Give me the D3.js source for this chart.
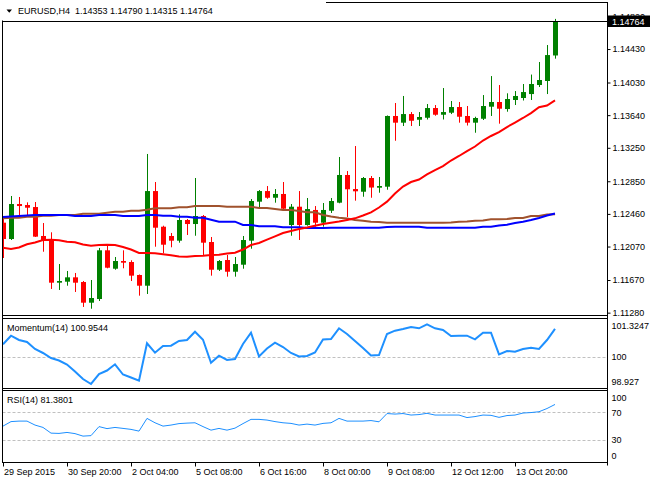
<!DOCTYPE html>
<html>
<head>
<meta charset="utf-8">
<script src="https://cdn.jsdelivr.net/npm/d3@7"></script>
<style>
body { margin: 0; background: #fff; }
text { font-family: "Liberation Sans", Arial, sans-serif; font-size: 9px; }
</style>
</head>
<body>
<div id="chart"></div>
<script>
// EURUSD H4 bars
var opens = [1.12355,1.12160,1.12578,1.12566,1.12542,1.12196,1.12148,1.11638,1.11650,1.11702,
1.11646,1.11399,1.11443,1.12025,1.11805,1.11897,1.11885,1.11730,1.11602,1.12733,
1.12307,1.12196,1.12140,1.12387,1.12339,1.12435,1.12124,1.11793,1.11909,1.11769,
1.11853,1.12140,1.12606,1.12733,1.12653,1.12698,1.12327,1.12546,1.12327,1.12507,
1.12355,1.12498,1.12594,1.12925,1.12757,1.12725,1.12889,1.12773,1.12785,1.13630,
1.13550,1.13653,1.13585,1.13609,1.13725,1.13645,1.13669,1.13737,1.13630,1.13550,
1.13597,1.13741,1.13797,1.13713,1.13821,1.13845,1.13892,1.14000,1.14048,1.14353];
var highs = [1.12435,1.12674,1.12662,1.12598,1.12602,1.12351,1.12240,1.11861,1.11778,1.11754,
1.11658,1.11670,1.12053,1.12088,1.11945,1.12025,1.11906,1.11736,1.13176,1.12841,
1.12319,1.12232,1.12455,1.12399,1.12889,1.12447,1.12184,1.11909,1.11969,1.11945,
1.12196,1.12638,1.12745,1.12793,1.12757,1.12841,1.12578,1.12733,1.12650,1.12554,
1.12590,1.12650,1.13140,1.12972,1.13271,1.12901,1.12913,1.12901,1.13636,1.13785,
1.13869,1.13677,1.13677,1.13773,1.13761,1.13964,1.13809,1.13797,1.13749,1.13621,
1.13880,1.14107,1.14000,1.13901,1.13928,1.14012,1.14125,1.14275,1.14478,1.14790];
var lows = [1.11933,1.12148,1.12438,1.12426,1.12184,1.12008,1.11563,1.11551,1.11602,1.11527,
1.11348,1.11327,1.11419,1.11810,1.11793,1.11810,1.11658,1.11483,1.11503,1.12068,
1.11989,1.12061,1.12116,1.12208,1.12199,1.11969,1.11722,1.11778,1.11710,1.11710,
1.11805,1.12044,1.12542,1.12641,1.12594,1.12510,1.12199,1.12148,1.12319,1.12307,
1.12307,1.12471,1.12587,1.12423,1.12618,1.12665,1.12653,1.12713,1.12749,1.13334,
1.13510,1.13510,1.13510,1.13588,1.13633,1.13588,1.13653,1.13550,1.13516,1.13430,
1.13582,1.13630,1.13538,1.13681,1.13761,1.13815,1.13821,1.13976,1.13892,1.14315];
var closes = [1.12160,1.12578,1.12554,1.12534,1.12188,1.12148,1.11638,1.11658,1.11702,1.11638,
1.11399,1.11455,1.12025,1.11817,1.11897,1.11877,1.11722,1.11602,1.12733,1.12295,
1.12092,1.12140,1.12387,1.12339,1.12435,1.12116,1.11793,1.11897,1.11769,1.11861,
1.12148,1.12614,1.12733,1.12653,1.12698,1.12522,1.12546,1.12327,1.12518,1.12355,
1.12507,1.12614,1.12925,1.12754,1.12730,1.12889,1.12775,1.12793,1.13630,1.13550,
1.13653,1.13573,1.13618,1.13725,1.13645,1.13677,1.13737,1.13621,1.13550,1.13606,
1.13749,1.13797,1.13717,1.13833,1.13869,1.13916,1.14012,1.14060,1.14358,1.14764];

// moving averages (red / blue / brown)
var maFast = [1.12056,1.12041,1.12058,1.12097,1.12118,1.12148,1.12152,1.12144,1.12128,1.12121,
1.12094,1.12080,1.12088,1.12092,1.12088,1.12064,1.12034,1.11993,1.11993,1.11989,
1.11977,1.11965,1.11951,1.11949,1.11957,1.11961,1.11969,1.11972,1.11987,1.11996,
1.12034,1.12088,1.12112,1.12152,1.12192,1.12232,1.12256,1.12280,1.12297,1.12319,
1.12339,1.12355,1.12369,1.12387,1.12407,1.12441,1.12479,1.12536,1.12606,1.12704,
1.12787,1.12841,1.12871,1.12931,1.12984,1.13032,1.13098,1.13152,1.13211,1.13265,
1.13337,1.13391,1.13438,1.13498,1.13552,1.13606,1.13665,1.13734,1.13755,1.13817];
var maMid = [1.12423,1.12429,1.12435,1.12441,1.12447,1.12447,1.12447,1.12447,1.12447,1.12435,
1.12435,1.12435,1.12447,1.12447,1.12447,1.12435,1.12435,1.12435,1.12447,1.12447,
1.12438,1.12438,1.12426,1.12426,1.12414,1.12414,1.12391,1.12367,1.12367,1.12367,
1.12327,1.12327,1.12312,1.12312,1.12312,1.12300,1.12300,1.12300,1.12291,1.12291,
1.12291,1.12295,1.12295,1.12295,1.12295,1.12295,1.12295,1.12295,1.12303,1.12307,
1.12307,1.12307,1.12307,1.12295,1.12295,1.12295,1.12295,1.12295,1.12295,1.12295,
1.12307,1.12307,1.12321,1.12331,1.12351,1.12367,1.12387,1.12411,1.12441,1.12465];
var maSlow = [1.12407,1.12414,1.12414,1.12426,1.12426,1.12438,1.12438,1.12447,1.12447,1.12447,
1.12462,1.12462,1.12462,1.12474,1.12486,1.12486,1.12498,1.12498,1.12510,1.12527,
1.12527,1.12527,1.12539,1.12539,1.12554,1.12554,1.12554,1.12554,1.12546,1.12546,
1.12546,1.12546,1.12530,1.12530,1.12518,1.12506,1.12506,1.12494,1.12479,1.12479,
1.12447,1.12429,1.12414,1.12405,1.12387,1.12379,1.12367,1.12363,1.12355,1.12355,
1.12355,1.12355,1.12355,1.12355,1.12355,1.12355,1.12357,1.12367,1.12369,1.12379,
1.12381,1.12395,1.12395,1.12399,1.12411,1.12411,1.12435,1.12435,1.12453,1.12455];

var momentum = [100.424,100.718,100.571,100.503,100.263,100.126,99.954,99.869,99.732,99.492,
99.235,99.064,99.406,99.526,99.739,99.389,99.286,99.177,100.458,100.136,
100.365,100.376,100.537,100.571,100.855,100.581,99.793,100.033,99.886,99.920,
100.434,100.821,100.006,100.280,100.479,100.331,100.126,100.006,100.023,100.143,
100.588,100.605,100.972,100.777,100.537,100.297,100.040,100.057,100.777,100.890,
100.948,101.016,100.972,101.109,100.972,100.914,100.708,100.718,100.718,100.595,
100.821,100.821,100.081,100.194,100.170,100.263,100.307,100.263,100.571,100.9544];
var rsi = [50.2,56.7,57.4,57.4,51.7,48.3,40.1,39.7,41.1,39.4,
35.8,36.5,49.5,46.6,48.3,46.9,45.5,43.0,61.3,55.0,
50.2,51.7,53.8,54.5,55.0,49.5,44.4,46.9,44.4,47.3,
53.8,59.9,59.9,58.9,56.7,55.0,54.1,51.7,53.1,51.7,
54.1,55.0,61.3,57.4,57.4,57.4,58.2,56.4,68.3,67.5,
68.3,66.1,66.8,68.6,66.1,66.1,66.1,66.1,62.5,63.9,
66.1,65.7,62.8,65.4,66.1,69.0,69.7,70.9,75.5,81.3801];

var priceTicks = [1.14820,1.14430,1.14030,1.13640,1.13250,1.12850,1.12460,1.12070,1.11670,1.11280];
var momTicks = [101.3247,100,98.927];
var rsiTicks = [100,70,30,0];
var rsiLevels = [70,30];
var timeIdx = [0,8,16,24,32,40,48,56,64];
var timeLabels = ["29 Sep 2015","30 Sep 20:00","2 Oct 04:00","5 Oct 08:00","6 Oct 16:00",
                  "8 Oct 00:00","9 Oct 08:00","12 Oct 12:00","13 Oct 20:00"];

var w = 650, h = 480;
var left = 2.5, right = 607.5;
var mainTop = 2.5, mainBot = 315.5;
var momTop = 318.5, momBot = 388.5;
var rsiTop = 390.5, rsiBot = 462.5;

var svg = d3.select("#chart").append("svg")
    .attr("width", w)
    .attr("height", h);

var n = closes.length;
var xScale = d3.scaleLinear().domain([0, n - 1]).range([3, 555]);
var yPrice = d3.scaleLinear().domain([1.11240, 1.14992]).range([316, 2]);
var yMom = d3.scaleLinear().domain([98.927, 101.3247]).range([388, 318]);
var yRsi = d3.scaleLinear().domain([0, 100]).range([461, 391.5]);

function clip(id, y0, y1) {
    svg.append("clipPath").attr("id", id)
        .append("rect").attr("x", left + 0.5).attr("y", y0 + 0.5)
        .attr("width", right - left - 1).attr("height", y1 - y0 - 1);
}
clip("cMain", mainTop, mainBot);
clip("cMom", momTop, momBot);
clip("cRsi", rsiTop, rsiBot);

// ---- main panel ----
var gMain = svg.append("g").attr("clip-path", "url(#cMain)");
var idx = d3.range(n);

gMain.selectAll(".wick").data(idx).enter().append("line")
    .attr("x1", function(i) { return xScale(i) + 0.5; })
    .attr("x2", function(i) { return xScale(i) + 0.5; })
    .attr("y1", function(i) { return yPrice(highs[i]); })
    .attr("y2", function(i) { return yPrice(lows[i]); })
    .attr("stroke", function(i) { return closes[i] >= opens[i] ? "#008000" : "#ff0000"; })
    .attr("stroke-width", 1);

gMain.selectAll(".body").data(idx).enter().append("rect")
    .attr("x", function(i) { return xScale(i) - 2; })
    .attr("width", 5)
    .attr("y", function(i) { return yPrice(Math.max(opens[i], closes[i])); })
    .attr("height", function(i) {
        return Math.max(1, Math.abs(yPrice(opens[i]) - yPrice(closes[i])));
    })
    .attr("fill", function(i) { return closes[i] >= opens[i] ? "#008000" : "#ff0000"; });

function maLine(arr, color) {
    var line = d3.line()
        .x(function(d, i) { return xScale(i); })
        .y(function(d) { return yPrice(d); });
    gMain.append("path").datum(arr)
        .attr("d", line)
        .attr("fill", "none")
        .attr("stroke", color)
        .attr("stroke-width", 2);
}
maLine(maSlow, "#a0522d");
maLine(maMid, "#0000ff");
maLine(maFast, "#ff0000");

// current price line
var lastY = Math.round(yPrice(closes[n - 1])) + 0.5;
svg.append("line")
    .attr("x1", left).attr("x2", right)
    .attr("y1", lastY).attr("y2", lastY)
    .attr("stroke", "#000");

// ---- momentum ----
var gMom = svg.append("g").attr("clip-path", "url(#cMom)");
var y100 = Math.round(yMom(100)) + 0.5;
gMom.append("line")
    .attr("x1", left).attr("x2", right).attr("y1", y100).attr("y2", y100)
    .attr("stroke", "#c0c0c0").attr("stroke-dasharray", "3,2");
gMom.append("path").datum(momentum)
    .attr("d", d3.line().x(function(d, i) { return xScale(i); }).y(function(d) { return yMom(d); }))
    .attr("fill", "none")
    .attr("stroke", "#1e90ff")
    .attr("stroke-width", 2);

// ---- rsi ----
var gRsi = svg.append("g").attr("clip-path", "url(#cRsi)");
gRsi.selectAll(".lvl").data(rsiLevels).enter().append("line")
    .attr("x1", left).attr("x2", right)
    .attr("y1", function(d) { return Math.round(yRsi(d)) + 0.5; })
    .attr("y2", function(d) { return Math.round(yRsi(d)) + 0.5; })
    .attr("stroke", "#c0c0c0").attr("stroke-dasharray", "3,2");
gRsi.append("path").datum(rsi)
    .attr("d", d3.line().x(function(d, i) { return xScale(i); }).y(function(d) { return yRsi(d); }))
    .attr("fill", "none")
    .attr("stroke", "#1e90ff")
    .attr("stroke-width", 1);

// ---- frames ----
[[mainTop, mainBot], [momTop, momBot], [rsiTop, rsiBot]].forEach(function(p) {
    svg.append("rect")
        .attr("x", left).attr("y", p[0])
        .attr("width", right - left).attr("height", p[1] - p[0])
        .attr("fill", "none").attr("stroke", "#000");
});
svg.append("line").attr("x1", right).attr("x2", right)
    .attr("y1", mainTop).attr("y2", rsiBot + 3).attr("stroke", "#000");
svg.append("line").attr("x1", left).attr("x2", left)
    .attr("y1", mainTop).attr("y2", rsiBot).attr("stroke", "#000");

// ---- price axis ----
var priceAxis = d3.axisRight(yPrice)
    .tickValues(priceTicks)
    .tickFormat(d3.format(".5f"))
    .tickSize(3)
    .tickPadding(2);
var gPA = svg.append("g")
    .attr("transform", "translate(" + right + ",0)")
    .call(priceAxis);
gPA.select(".domain").remove();
gPA.selectAll("text").attr("fill", "#000").style("font-size", "9px")
    .style("font-family", "'Liberation Sans', Arial, sans-serif");
gPA.selectAll("line").attr("stroke", "#000");

function sideLabels(ticks, scale, y0, y1, fmt) {
    svg.append("g").selectAll("text").data(ticks).enter().append("text")
        .attr("x", right + 4)
        .attr("y", function(d) {
            var y = Math.min(Math.max(scale(d), y0 + 7), y1 - 7);
            return y + 3.2;
        })
        .text(fmt);
}
sideLabels(momTicks, yMom, momTop, momBot, function(d) { return String(d); });
sideLabels(rsiTicks, yRsi, rsiTop, rsiBot, function(d) { return String(d); });

// current price marker
svg.append("rect")
    .attr("x", right).attr("y", lastY - 6)
    .attr("width", w - right).attr("height", 11.5)
    .attr("fill", "#000");
svg.append("text")
    .attr("x", right + 4.5).attr("y", lastY + 3.5)
    .attr("fill", "#fff")
    .text(d3.format(".5f")(closes[n - 1]));

// ---- time axis ----
var timeAxis = d3.axisBottom(xScale)
    .tickValues(timeIdx)
    .tickFormat(function(d, i) { return timeLabels[i]; })
    .tickSize(4)
    .tickPadding(2.5);
var gTA = svg.append("g")
    .attr("transform", "translate(0," + rsiBot + ")")
    .call(timeAxis);
gTA.select(".domain").remove();
gTA.selectAll("text").attr("text-anchor", "start").attr("x", 0.5).attr("fill", "#000")
    .style("font-size", "9px")
    .style("font-family", "'Liberation Sans', Arial, sans-serif");
gTA.selectAll("line").attr("stroke", "#000");

// ---- titles ----
svg.append("rect").attr("x", 0).attr("y", 0).attr("width", 326).attr("height", 20.5).attr("fill", "#fff");
svg.append("path").attr("d", "M6.5,9.5 L12,9.5 L9.25,12.7 Z").attr("fill", "#000");
var f5 = d3.format(".5f");
svg.append("text")
    .attr("x", 18).attr("y", 14.2)
    .style("white-space", "pre")
    .text("EURUSD,H4  " + f5(opens[n - 1]) + " " + f5(highs[n - 1]) + " " + f5(lows[n - 1]) + " " + f5(closes[n - 1]));
svg.append("text")
    .attr("x", 7).attr("y", 330.5)
    .text("Momentum(14) " + d3.format(".4f")(momentum[n - 1]));
svg.append("text")
    .attr("x", 7).attr("y", 402.5)
    .text("RSI(14) " + d3.format(".4f")(rsi[n - 1]));
</script>
</body>
</html>
